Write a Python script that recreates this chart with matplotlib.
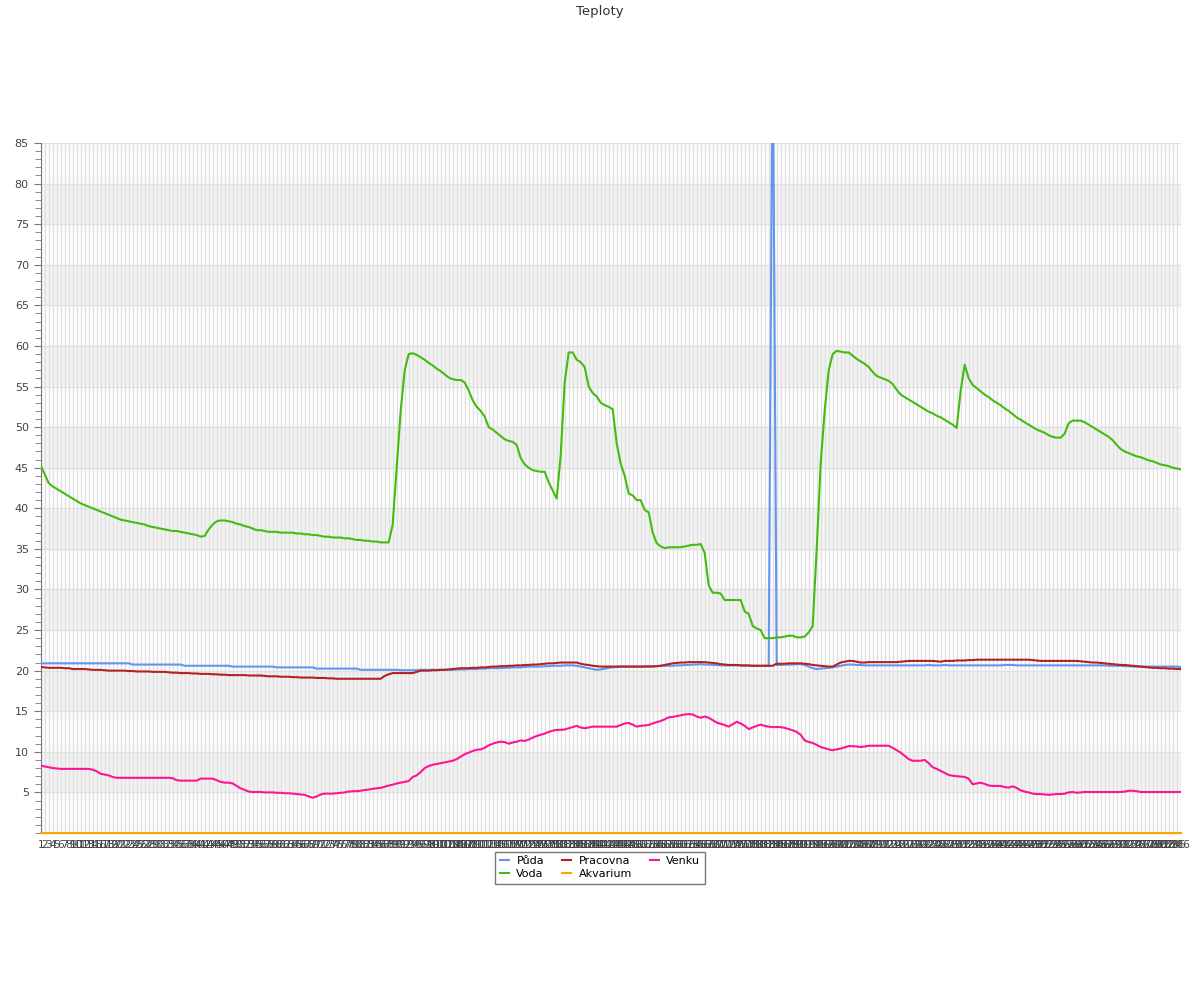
import matplotlib
matplotlib.use("Agg")
import matplotlib.pyplot as plt
from matplotlib.ticker import MultipleLocator

# hodnoty (286 mereni)
puda = [
    20.9, 20.9, 20.9, 20.9, 20.9, 20.9, 20.9, 20.9, 20.9, 20.9,
    20.9, 20.9, 20.9, 20.9, 20.9, 20.9, 20.9, 20.9, 20.9, 20.9,
    20.9, 20.9, 20.9, 20.75, 20.75, 20.75, 20.75, 20.75, 20.75, 20.75,
    20.75, 20.75, 20.75, 20.75, 20.75, 20.75, 20.6, 20.6, 20.6, 20.6,
    20.6, 20.6, 20.6, 20.6, 20.6, 20.6, 20.6, 20.6, 20.5, 20.5,
    20.5, 20.5, 20.5, 20.5, 20.5, 20.5, 20.5, 20.5, 20.5, 20.4,
    20.4, 20.4, 20.4, 20.4, 20.4, 20.4, 20.4, 20.4, 20.4, 20.25,
    20.25, 20.25, 20.25, 20.25, 20.25, 20.25, 20.25, 20.25, 20.25, 20.25,
    20.1, 20.1, 20.1, 20.1, 20.1, 20.1, 20.1, 20.1, 20.1, 20.1,
    20.05, 20.05, 20.05, 20.05, 20.05, 20.1, 20.1, 20.1, 20.1, 20.1,
    20.1, 20.1, 20.1, 20.1, 20.15, 20.15, 20.15, 20.2, 20.2, 20.2,
    20.25, 20.25, 20.3, 20.3, 20.3, 20.3, 20.35, 20.35, 20.4, 20.4,
    20.4, 20.45, 20.5, 20.5, 20.5, 20.5, 20.55, 20.55, 20.6, 20.6,
    20.6, 20.65, 20.65, 20.65, 20.6, 20.5, 20.4, 20.3, 20.2, 20.1,
    20.15, 20.25, 20.35, 20.4, 20.45, 20.5, 20.5, 20.5, 20.5, 20.5,
    20.5, 20.55, 20.55, 20.55, 20.55, 20.6, 20.6, 20.6, 20.6, 20.65,
    20.65, 20.7, 20.7, 20.75, 20.75, 20.8, 20.75, 20.75, 20.7, 20.7,
    20.65, 20.65, 20.65, 20.65, 20.65, 20.65, 20.6, 20.6, 20.6, 20.6,
    20.6, 20.6, 20.6, 100.0, 20.7, 20.7, 20.75, 20.75, 20.75, 20.8,
    20.8, 20.7, 20.5, 20.3, 20.2, 20.25, 20.3, 20.35, 20.4, 20.5,
    20.6, 20.7, 20.75, 20.75, 20.7, 20.7, 20.65, 20.65, 20.65, 20.65,
    20.65, 20.65, 20.65, 20.65, 20.65, 20.65, 20.65, 20.65, 20.65, 20.65,
    20.65, 20.65, 20.7, 20.65, 20.65, 20.65, 20.7, 20.65, 20.65, 20.65,
    20.65, 20.65, 20.65, 20.65, 20.65, 20.65, 20.65, 20.65, 20.65, 20.65,
    20.65, 20.7, 20.7, 20.7, 20.65, 20.65, 20.65, 20.65, 20.65, 20.65,
    20.65, 20.65, 20.65, 20.65, 20.65, 20.65, 20.65, 20.65, 20.65, 20.65,
    20.65, 20.65, 20.65, 20.65, 20.65, 20.65, 20.65, 20.6, 20.6, 20.6,
    20.6, 20.55, 20.55, 20.5, 20.5, 20.5, 20.5, 20.5, 20.5, 20.5,
    20.5, 20.5, 20.5, 20.5, 20.5, 20.45,
]

voda = [
    45.3, 44.2, 43.1, 42.7, 42.4, 42.1, 41.8, 41.5, 41.2, 40.9,
    40.6, 40.4, 40.2, 40.0, 39.8, 39.6, 39.4, 39.2, 39.0, 38.8,
    38.6, 38.5, 38.4, 38.3, 38.2, 38.1, 38.0, 37.8, 37.7, 37.6,
    37.5, 37.4, 37.3, 37.2, 37.2, 37.1, 37.0, 36.9, 36.8, 36.7,
    36.5, 36.6, 37.4, 38.0, 38.4, 38.5, 38.5, 38.4, 38.3, 38.1,
    38.0, 37.8, 37.7, 37.5, 37.3, 37.3, 37.2, 37.1, 37.1, 37.1,
    37.0, 37.0, 37.0, 37.0, 36.9, 36.9, 36.8, 36.8, 36.7, 36.7,
    36.6, 36.5, 36.5, 36.4, 36.4, 36.4, 36.3, 36.3, 36.2, 36.1,
    36.1, 36.0, 36.0, 35.9, 35.9, 35.8, 35.8, 35.8, 38.0, 45.0,
    52.0, 57.0, 59.0, 59.1, 58.9, 58.6, 58.3, 57.9, 57.6, 57.2,
    56.9, 56.5, 56.1, 55.9, 55.8, 55.8, 55.5, 54.5, 53.3, 52.5,
    52.0, 51.3, 50.0, 49.7, 49.3, 48.9, 48.5, 48.3, 48.2, 47.8,
    46.2, 45.4, 45.0, 44.7, 44.6, 44.5, 44.5, 43.2, 42.2, 41.2,
    46.5, 55.5, 59.2, 59.2, 58.3, 58.0, 57.4, 55.0, 54.2, 53.8,
    53.0, 52.7, 52.5, 52.2, 48.0, 45.5, 44.0, 41.8, 41.6, 41.0,
    41.0, 39.8, 39.5, 37.0, 35.7, 35.3, 35.1, 35.2, 35.2, 35.2,
    35.2, 35.3, 35.4, 35.5, 35.5, 35.6, 34.5, 30.5, 29.6, 29.6,
    29.5, 28.7, 28.7, 28.7, 28.7, 28.7, 27.3, 27.0, 25.5, 25.2,
    25.0, 24.0, 24.0, 24.0, 24.1, 24.1, 24.2, 24.3, 24.3, 24.1,
    24.1, 24.2, 24.7, 25.5, 35.0, 45.5, 52.0, 57.0, 59.0, 59.4,
    59.3, 59.2, 59.2, 58.8, 58.4, 58.1, 57.8, 57.4, 56.8, 56.3,
    56.1, 55.9, 55.7, 55.3, 54.6, 54.0, 53.7, 53.4, 53.1, 52.8,
    52.5, 52.2, 51.9, 51.7, 51.4, 51.2, 50.9, 50.6, 50.3, 49.9,
    54.5, 57.7, 56.0, 55.2, 54.8, 54.4, 54.0, 53.7, 53.3, 53.0,
    52.7, 52.3, 52.0, 51.6, 51.2, 50.9, 50.6, 50.3, 50.0, 49.7,
    49.5, 49.3, 49.0, 48.8, 48.7, 48.7, 49.2, 50.5, 50.8, 50.8,
    50.8, 50.6, 50.3, 50.0, 49.7, 49.4, 49.1, 48.8, 48.4, 47.8,
    47.3, 47.0, 46.8, 46.6, 46.4, 46.3, 46.1, 45.9, 45.8, 45.6,
    45.4, 45.3, 45.2, 45.0, 44.9, 44.8,
]

pracovna = [
    20.45, 20.4, 20.35, 20.35, 20.35, 20.35, 20.3, 20.3, 20.2, 20.2,
    20.2, 20.2, 20.15, 20.1, 20.1, 20.1, 20.05, 20.0, 20.0, 20.0,
    20.0, 20.0, 19.95, 19.95, 19.9, 19.9, 19.9, 19.9, 19.85, 19.85,
    19.85, 19.85, 19.8, 19.75, 19.75, 19.7, 19.7, 19.7, 19.65, 19.65,
    19.6, 19.6, 19.6, 19.55, 19.55, 19.5, 19.5, 19.45, 19.45, 19.45,
    19.45, 19.45, 19.4, 19.4, 19.4, 19.4, 19.35, 19.3, 19.3, 19.3,
    19.25, 19.25, 19.25, 19.2, 19.2, 19.15, 19.15, 19.15, 19.15, 19.1,
    19.1, 19.1, 19.05, 19.05, 19.0, 19.0, 19.0, 19.0, 19.0, 19.0,
    19.0, 19.0, 19.0, 19.0, 19.0, 19.0, 19.35, 19.55, 19.7, 19.7,
    19.7, 19.7, 19.7, 19.7, 19.85, 20.0, 20.0, 20.0, 20.05, 20.05,
    20.1, 20.1, 20.15, 20.2, 20.25, 20.3, 20.3, 20.3, 20.35, 20.35,
    20.4, 20.4, 20.45, 20.5, 20.5, 20.55, 20.55, 20.6, 20.6, 20.65,
    20.65, 20.7, 20.7, 20.75, 20.75, 20.8, 20.85, 20.9, 20.9, 20.95,
    21.0, 21.0, 21.0, 21.0, 21.0, 20.85, 20.75, 20.7, 20.6, 20.55,
    20.5, 20.5, 20.5, 20.5, 20.5, 20.5, 20.5, 20.5, 20.5, 20.5,
    20.5, 20.5, 20.5, 20.5, 20.55, 20.6, 20.7, 20.8, 20.9, 20.95,
    21.0, 21.0, 21.05, 21.05, 21.05, 21.05, 21.05, 21.0, 20.95, 20.9,
    20.8, 20.75, 20.7, 20.7, 20.7, 20.65, 20.65, 20.65, 20.6, 20.6,
    20.6, 20.6, 20.6, 20.6, 20.85, 20.85, 20.85, 20.9, 20.9, 20.9,
    20.9, 20.85, 20.8, 20.7, 20.65, 20.6, 20.55, 20.5, 20.5, 20.75,
    21.0, 21.1, 21.2, 21.2, 21.1, 21.0, 21.0, 21.05, 21.05, 21.05,
    21.05, 21.05, 21.05, 21.05, 21.05, 21.1, 21.15, 21.2, 21.2, 21.2,
    21.2, 21.2, 21.2, 21.2, 21.15, 21.1, 21.2, 21.2, 21.2, 21.25,
    21.25, 21.25, 21.3, 21.3, 21.35, 21.35, 21.35, 21.35, 21.35, 21.35,
    21.35, 21.35, 21.35, 21.35, 21.35, 21.35, 21.35, 21.35, 21.3, 21.25,
    21.2, 21.2, 21.2, 21.2, 21.2, 21.2, 21.2, 21.2, 21.2, 21.2,
    21.15, 21.1, 21.05, 21.0, 21.0, 20.95, 20.9, 20.85, 20.8, 20.75,
    20.7, 20.7, 20.65, 20.6, 20.55, 20.5, 20.45, 20.4, 20.35, 20.35,
    20.3, 20.3, 20.25, 20.25, 20.2, 20.2,
]

akvarium = [
    0, 0, 0, 0, 0, 0, 0, 0, 0, 0, 0, 0, 0, 0, 0, 0, 0, 0, 0, 0, 0, 0, 0, 0, 0, 0,
    0, 0, 0, 0, 0, 0, 0, 0, 0, 0, 0, 0, 0, 0, 0, 0, 0, 0, 0, 0, 0, 0, 0, 0, 0, 0,
    0, 0, 0, 0, 0, 0, 0, 0, 0, 0, 0, 0, 0, 0, 0, 0, 0, 0, 0, 0, 0, 0, 0, 0, 0, 0,
    0, 0, 0, 0, 0, 0, 0, 0, 0, 0, 0, 0, 0, 0, 0, 0, 0, 0, 0, 0, 0, 0, 0, 0, 0, 0,
    0, 0, 0, 0, 0, 0, 0, 0, 0, 0, 0, 0, 0, 0, 0, 0, 0, 0, 0, 0, 0, 0, 0, 0, 0, 0,
    0, 0, 0, 0, 0, 0, 0, 0, 0, 0, 0, 0, 0, 0, 0, 0, 0, 0, 0, 0, 0, 0, 0, 0, 0, 0,
    0, 0, 0, 0, 0, 0, 0, 0, 0, 0, 0, 0, 0, 0, 0, 0, 0, 0, 0, 0, 0, 0, 0, 0, 0, 0,
    0, 0, 0, 0, 0, 0, 0, 0, 0, 0, 0, 0, 0, 0, 0, 0, 0, 0, 0, 0, 0, 0, 0, 0, 0, 0,
    0, 0, 0, 0, 0, 0, 0, 0, 0, 0, 0, 0, 0, 0, 0, 0, 0, 0, 0, 0, 0, 0, 0, 0, 0, 0,
    0, 0, 0, 0, 0, 0, 0, 0, 0, 0, 0, 0, 0, 0, 0, 0, 0, 0, 0, 0, 0, 0, 0, 0, 0, 0,
    0, 0, 0, 0, 0, 0, 0, 0, 0, 0, 0, 0, 0, 0, 0, 0, 0, 0, 0, 0, 0, 0, 0, 0, 0, 0,
]

venku = [
    8.3, 8.2, 8.1, 8.0, 7.95, 7.9, 7.9, 7.9, 7.9, 7.9,
    7.9, 7.9, 7.9, 7.8, 7.6, 7.3, 7.2, 7.1, 6.9, 6.8,
    6.8, 6.8, 6.8, 6.8, 6.8, 6.8, 6.8, 6.8, 6.8, 6.8,
    6.8, 6.8, 6.8, 6.75, 6.5, 6.45, 6.45, 6.45, 6.45, 6.45,
    6.7, 6.7, 6.7, 6.7, 6.5, 6.3, 6.2, 6.2, 6.1, 5.8,
    5.5, 5.3, 5.1, 5.05, 5.05, 5.05, 5.0, 5.0, 5.0, 4.95,
    4.95, 4.9, 4.9, 4.85, 4.8, 4.75, 4.7, 4.5, 4.35, 4.5,
    4.75, 4.85, 4.85, 4.85, 4.9, 4.95, 5.0, 5.1, 5.15, 5.15,
    5.2, 5.3, 5.35, 5.45, 5.5, 5.55, 5.7, 5.85, 5.95, 6.1,
    6.2, 6.3, 6.4, 6.9, 7.1, 7.5, 8.0, 8.25, 8.4, 8.5,
    8.6, 8.7, 8.8, 8.9, 9.1, 9.4, 9.7, 9.9, 10.1, 10.25,
    10.3, 10.5, 10.8, 11.0, 11.15, 11.25, 11.2, 11.0, 11.15, 11.25,
    11.4, 11.35, 11.5, 11.75, 11.95, 12.1, 12.25, 12.45, 12.6, 12.7,
    12.7, 12.75, 12.9, 13.05, 13.2, 13.0, 12.9, 13.0, 13.1, 13.1,
    13.1, 13.1, 13.1, 13.1, 13.1, 13.3, 13.5, 13.55, 13.35, 13.1,
    13.2, 13.25, 13.3, 13.5, 13.65, 13.8, 14.0, 14.25, 14.3, 14.4,
    14.5, 14.6, 14.65, 14.6, 14.35, 14.2, 14.35, 14.2, 13.9, 13.6,
    13.45, 13.3, 13.1, 13.4, 13.7, 13.5, 13.2, 12.8, 13.0, 13.2,
    13.35, 13.2, 13.1, 13.05, 13.05, 13.05, 12.95, 12.8, 12.65, 12.45,
    12.1, 11.4, 11.2, 11.1, 10.85, 10.6, 10.45, 10.3, 10.2, 10.3,
    10.4, 10.55, 10.7, 10.7, 10.65, 10.6, 10.65, 10.75, 10.75, 10.75,
    10.75, 10.75, 10.75, 10.5, 10.2, 9.9, 9.5, 9.1, 8.9, 8.9,
    8.9, 9.0, 8.6, 8.1, 7.9, 7.65, 7.4, 7.15, 7.05, 7.0,
    6.95, 6.9, 6.7, 6.0, 6.1, 6.2, 6.05, 5.85, 5.8, 5.8,
    5.8, 5.65, 5.6, 5.75, 5.55, 5.25, 5.1, 5.0, 4.85, 4.8,
    4.8, 4.75, 4.7, 4.75, 4.8, 4.8, 4.85, 5.0, 5.05, 4.95,
    5.0, 5.05, 5.05, 5.05, 5.05, 5.05, 5.05, 5.05, 5.05, 5.05,
    5.05, 5.1, 5.2, 5.2, 5.15, 5.05, 5.05, 5.05, 5.05, 5.05,
    5.05, 5.05, 5.05, 5.05, 5.05, 5.05,
]

mereni = [str(n) for n in range(1, len(voda) + 1)]

fig = plt.figure(figsize=(12, 10), dpi=100)
ax = fig.add_axes([0.0339, 0.167, 0.95, 0.69])

# sede pruhy a mrizka
for lo in range(5, 85, 10):
    ax.axhspan(lo, lo + 5, color="#f3f3f3", zorder=0, lw=0)
x = list(range(len(mereni)))
ax.set_xticks(x)
ax.set_xticklabels(mereni, fontsize=7.5, color="#444444")
ax.grid(axis="x", color="#e0e0e0", lw=1, zorder=1)
ax.grid(axis="y", color="#e0e0e0", lw=1, zorder=1)

ax.plot(x, puda, color="#6495ed", lw=1.5, label="Půda", zorder=3)
ax.plot(x, voda, color="#44bb11", lw=1.5, label="Voda", zorder=3)
ax.plot(x, pracovna, color="#b22222", lw=1.5, label="Pracovna", zorder=3)
ax.plot(x, akvarium, color="#ffa500", lw=1.5, label="Akvarium", zorder=4, clip_on=False)
ax.plot(x, venku, color="#ff1493", lw=1.5, label="Venku", zorder=3)

ax.set_xlim(0, len(mereni) - 1)
ax.set_ylim(0, 85)
ax.set_yticks(range(5, 90, 5))
ax.yaxis.set_minor_locator(MultipleLocator(1))
ax.tick_params(axis="y", which="major", labelsize=8, labelcolor="#444444", color="#777777", length=5)
ax.tick_params(axis="y", which="minor", color="#777777", length=4)
ax.tick_params(axis="x", length=0, pad=5)

for s in ["top", "right"]:
    ax.spines[s].set_visible(False)
ax.spines["left"].set_color("#777777")
ax.spines["bottom"].set_color("#777777")

fig.text(0.5, 0.989, "Teploty", ha="center", va="center", fontsize=9.5, color="#333333")

fig.legend(loc="upper center", bbox_to_anchor=(0.5, 0.154), ncol=3, fontsize=8,
           fancybox=False, edgecolor="#777777", handlelength=0.8, handletextpad=0.7,
           columnspacing=1.6, borderpad=0.4, labelspacing=0.3, framealpha=1)

plt.savefig("out.png")
